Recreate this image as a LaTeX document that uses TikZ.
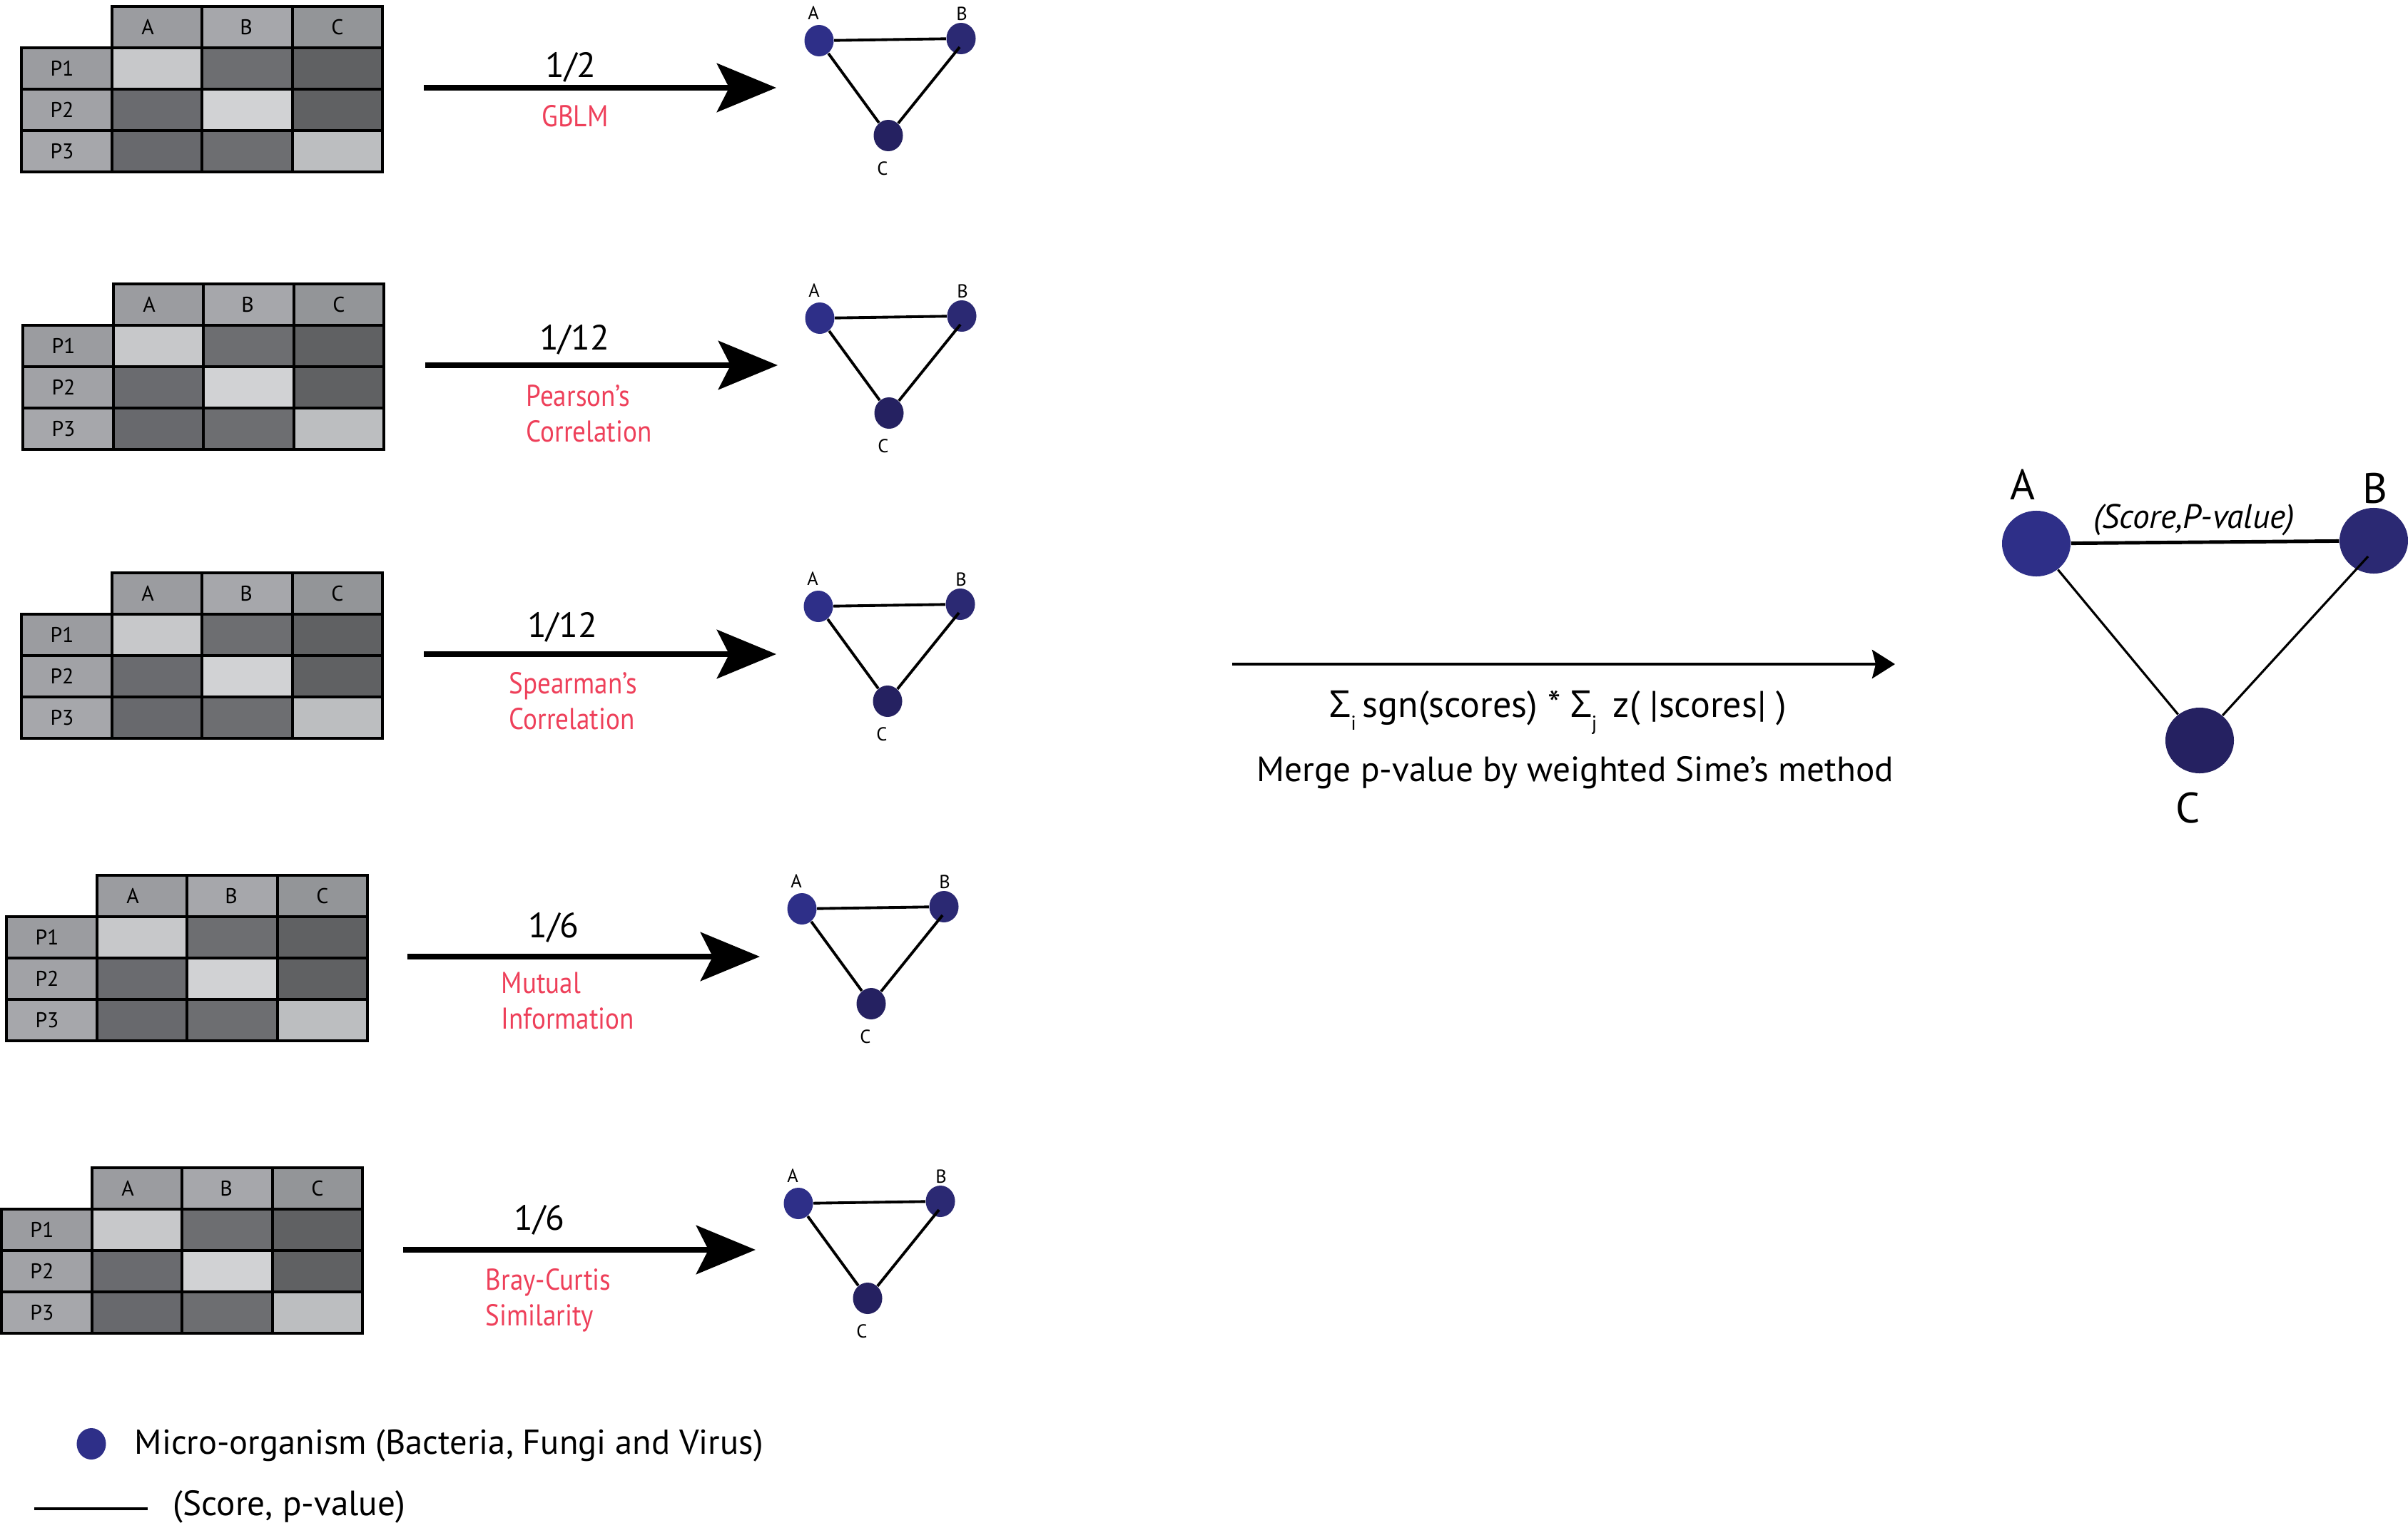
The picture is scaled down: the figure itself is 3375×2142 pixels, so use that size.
\documentclass[tikz,border=0pt]{standalone}
\usepackage{fontspec}
\setmainfont{PT Sans}
\newfontfamily\redfont[FakeStretch=0.88]{PT Sans}
\newfontfamily\symfont{Open Sans}
\usetikzlibrary{arrows.meta,calc,shapes.geometric}
\definecolor{redlab}{RGB}{238,64,90}
\definecolor{nodeA}{RGB}{46,47,136}
\definecolor{nodeB}{RGB}{43,41,115}
\definecolor{nodeC}{RGB}{37,33,97}
\definecolor{hdA}{RGB}{155,156,160}
\definecolor{hdB}{RGB}{166,167,171}
\definecolor{hdC}{RGB}{147,149,152}
\definecolor{lbA}{RGB}{155,156,160}
\definecolor{lbB}{RGB}{161,162,166}
\definecolor{lbC}{RGB}{166,167,171}
\definecolor{cAA}{RGB}{199,200,202}
\definecolor{cAB}{RGB}{109,110,113}
\definecolor{cAC}{RGB}{96,97,99}
\definecolor{cBA}{RGB}{106,107,111}
\definecolor{cBB}{RGB}{209,210,212}
\definecolor{cBC}{RGB}{96,97,99}
\definecolor{cCA}{RGB}{104,105,109}
\definecolor{cCB}{RGB}{109,110,113}
\definecolor{cCC}{RGB}{188,190,192}

\tikzset{
  cell/.style={draw=black, line width=1pt, minimum height=0.58cm, inner sep=0pt},
  lcell/.style={cell, minimum width=1.27cm},
  dcell/.style={cell, minimum width=1.263cm},
  ctext/.style={font=\fontsize{8.5}{10}\selectfont, text=black, inner sep=0pt},
  org/.style={ellipse, minimum width=0.41cm, minimum height=0.44cm, inner sep=0pt, draw=none},
  bigorg/.style={ellipse, minimum width=0.96cm, minimum height=0.92cm, inner sep=0pt, draw=none},
  nlab/.style={font=\fontsize{7.5}{9}\selectfont, anchor=base, inner sep=0pt},
  biglab/.style={font=\fontsize{17}{20}\selectfont, anchor=base, inner sep=0pt},
  weight/.style={font=\fontsize{14}{16}\selectfont, anchor=base, inner sep=0pt},
  method/.style={font=\redfont\fontsize{12}{14}\selectfont, text=redlab, anchor=base west, inner sep=0pt},
  flow/.style={line width=2.5pt, -{Stealth[length=0.83cm,width=0.68cm,inset=0.17cm]}},
  mergeflow/.style={line width=1.3pt, -{Stealth[length=0.32cm,width=0.40cm,inset=0.05cm]}},
  netedge/.style={line width=1.1pt},
  bigedge/.style={line width=0.9pt},
  plain/.style={font=\fontsize{14}{16}\selectfont, inner sep=0pt},
}

\newcommand{\datatable}[3]{%
\begin{scope}[shift={(#2,#3)}]
  \node[dcell,fill=hdA] (#1hA) at (190,29) {};
  \node[dcell,fill=hdB] (#1hB) at (316.5,29) {};
  \node[dcell,fill=hdC] (#1hC) at (443,29) {};
  \node[lcell,fill=lbA] (#1pA) at (63.5,87) {};
  \node[lcell,fill=lbB] (#1pB) at (63.5,145) {};
  \node[lcell,fill=lbC] (#1pC) at (63.5,203) {};
  \node[dcell,fill=cAA] (#1AA) at (190,87) {};
  \node[dcell,fill=cAB] (#1AB) at (316.5,87) {};
  \node[dcell,fill=cAC] (#1AC) at (443,87) {};
  \node[dcell,fill=cBA] (#1BA) at (190,145) {};
  \node[dcell,fill=cBB] (#1BB) at (316.5,145) {};
  \node[dcell,fill=cBC] (#1BC) at (443,145) {};
  \node[dcell,fill=cCA] (#1CA) at (190,203) {};
  \node[dcell,fill=cCB] (#1CB) at (316.5,203) {};
  \node[dcell,fill=cCC] (#1CC) at (443,203) {};
  \node[ctext] (#1tA) at (177,29) {A};
  \node[ctext] (#1tB) at (315,29) {B};
  \node[ctext] (#1tC) at (443,29) {C};
  \node[ctext] (#1t1) at (57,87) {P1};
  \node[ctext] (#1t2) at (57,145) {P2};
  \node[ctext] (#1t3) at (57,203) {P3};
\end{scope}}

\newcommand{\smallnet}[3]{%
\begin{scope}[shift={(#2,#3)}]
  \node[org,fill=nodeA] (#1A) at (0,0) {};
  \node[org,fill=nodeB] (#1B) at (199,-3) {};
  \node[org,fill=nodeC] (#1C) at (97,133) {};
  \coordinate (#1Bin) at (197,9);
  \node[nlab] (#1la) at (-8,-30) {A};
  \node[nlab] (#1lb) at (200,-29) {B};
  \node[nlab] (#1lc) at (89,188) {C};
  \draw[netedge] (#1A) -- (#1B);
  \draw[netedge] (#1A) -- (#1C);
  \draw[netedge] (#1Bin) -- (#1C);
\end{scope}}

\newcommand{\subidx}[1]{\raisebox{-0.35em}{\fontsize{8}{8}\selectfont #1}}

\begin{document}
\begin{tikzpicture}[x=0.01cm,y=-0.01cm]
\useasboundingbox (0,0) rectangle (3375,2142);

% ---- row 1
\datatable{ta}{30}{9}
\coordinate (r1s) at (594,123); \coordinate (r1e) at (1088,123);
\draw[flow] (r1s) -- (r1e);
\node[weight] (w1) at (800,108) {1/2};
\node[method, anchor=base] (m1) at (806,177) {GBLM};
\smallnet{na}{1148}{57}

% ---- row 2
\datatable{tb}{32}{398}
\coordinate (r2s) at (596,512); \coordinate (r2e) at (1090,512);
\draw[flow] (r2s) -- (r2e);
\node[weight] (w2) at (805,490) {1/12};
\node[method] (m2a) at (737,569) {Pearson’s};
\node[method] (m2b) at (737,619) {Correlation};
\smallnet{nb}{1149}{446}

% ---- row 3
\datatable{tc}{30}{803}
\coordinate (r3s) at (594,917); \coordinate (r3e) at (1088,917);
\draw[flow] (r3s) -- (r3e);
\node[weight] (w3) at (788,893) {1/12};
\node[method] (m3a) at (713,972) {Spearman’s};
\node[method] (m3b) at (713,1022) {Correlation};
\smallnet{nc}{1147}{850}

% ---- row 4
\datatable{td}{9}{1227}
\coordinate (r4s) at (571,1341); \coordinate (r4e) at (1065,1341);
\draw[flow] (r4s) -- (r4e);
\node[weight] (w4) at (776,1314) {1/6};
\node[method] (m4a) at (702,1392) {Mutual};
\node[method] (m4b) at (702,1442) {Information};
\smallnet{nd}{1124}{1274}

% ---- row 5
\datatable{te}{2}{1637}
\coordinate (r5s) at (565,1752); \coordinate (r5e) at (1059,1752);
\draw[flow] (r5s) -- (r5e);
\node[weight] (w5) at (756,1724) {1/6};
\node[method] (m5a) at (680,1808) {Bray-Curtis};
\node[method] (m5b) at (680,1858) {Similarity};
\smallnet{ne}{1119}{1687}

% ---- merge arrow and formula
\coordinate (ms) at (1727,931); \coordinate (me) at (2656,931);
\draw[mergeflow] (ms) -- (me);
\node[plain, anchor=base, font=\fontsize{14.8}{16}\selectfont] (formula) at (2184,1005)
  {{\symfont Σ}\subidx{i}\,sgn(scores) * {\symfont Σ}\subidx{j}\, z( |scores| )};
\node[plain, anchor=base] (merge) at (2208,1095) {Merge p-value by weighted Sime’s method};

% ---- final network
\node[bigorg,fill=nodeA] (FA) at (2854,762) {};
\node[bigorg,fill=nodeB] (FB) at (3327,758) {};
\node[bigorg,fill=nodeC] (FC) at (3083,1038) {};
\coordinate (FBin) at (3319,780);
\node[biglab] (FlA) at (2835,700) {A};
\node[biglab] (FlB) at (3329,705) {B};
\node[biglab] (FlC) at (3067,1153) {C};
\draw[line width=1.4pt] (FA) -- (FB);
\draw[bigedge] (FA) -- (FC);
\draw[bigedge] (FBin) -- (FC);
\node[font=\fontsize{13.5}{15}\selectfont\itshape, anchor=base, inner sep=0pt] (FAB) at (3075,740) {(Score,P-value)};

% ---- legend
\node[org,fill=nodeA] (legorg) at (128,2024) {};
\node[plain, anchor=base west, font=\fontsize{13.8}{16}\selectfont] (legt1) at (188,2038) {Micro-organism (Bacteria, Fungi and Virus)};
\coordinate (ll1) at (48,2115); \coordinate (ll2) at (207,2115);
\draw[line width=1.4pt] (ll1) -- (ll2);
\node[plain, anchor=base west] (legt2) at (242,2124) {(Score, p-value)};
\end{tikzpicture}
\end{document}
